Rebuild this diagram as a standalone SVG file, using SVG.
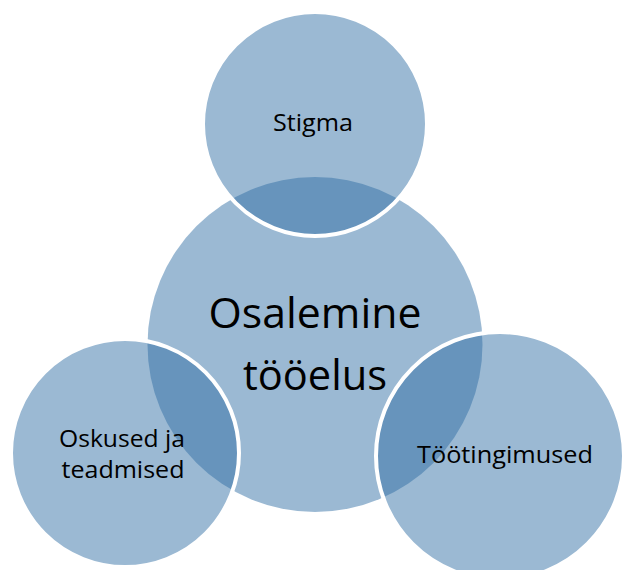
<svg xmlns="http://www.w3.org/2000/svg" width="623" height="570" viewBox="0 0 623 570">
<style>
.c{fill:rgb(47,109,163);fill-opacity:0.48}
.s{stroke:#fff;stroke-width:4}
text{font-family:"Open Sans","Liberation Sans",sans-serif;fill:#000;text-anchor:middle}
.m{font-size:42px}
.t{font-size:24px}
</style>
<rect width="623" height="570" fill="#fff"/>
<g id="center">
<circle class="c" cx="315" cy="344.5" r="167.5"/>
<text class="m" x="315" y="328" textLength="213" lengthAdjust="spacingAndGlyphs">Osalemine</text>
<text class="m" x="315" y="390" textLength="144" lengthAdjust="spacingAndGlyphs">tööelus</text>
</g>
<g id="stigma">
<circle class="c s" cx="315" cy="124" r="112"/>
<text class="t" x="313" y="131" textLength="80" lengthAdjust="spacingAndGlyphs">Stigma</text>
</g>
<g id="oskused">
<circle class="c s" cx="125" cy="453" r="114"/>
<text class="t" x="122" y="447" textLength="126" lengthAdjust="spacingAndGlyphs">Oskused ja</text>
<text class="t" x="123" y="478" textLength="123" lengthAdjust="spacingAndGlyphs">teadmised</text>
</g>
<g id="tootingimused">
<circle class="c s" cx="500" cy="456" r="124"/>
<text class="t" x="505" y="463" textLength="176" lengthAdjust="spacingAndGlyphs">Töötingimused</text>
</g>
<g id="connectors"></g>
</svg>
